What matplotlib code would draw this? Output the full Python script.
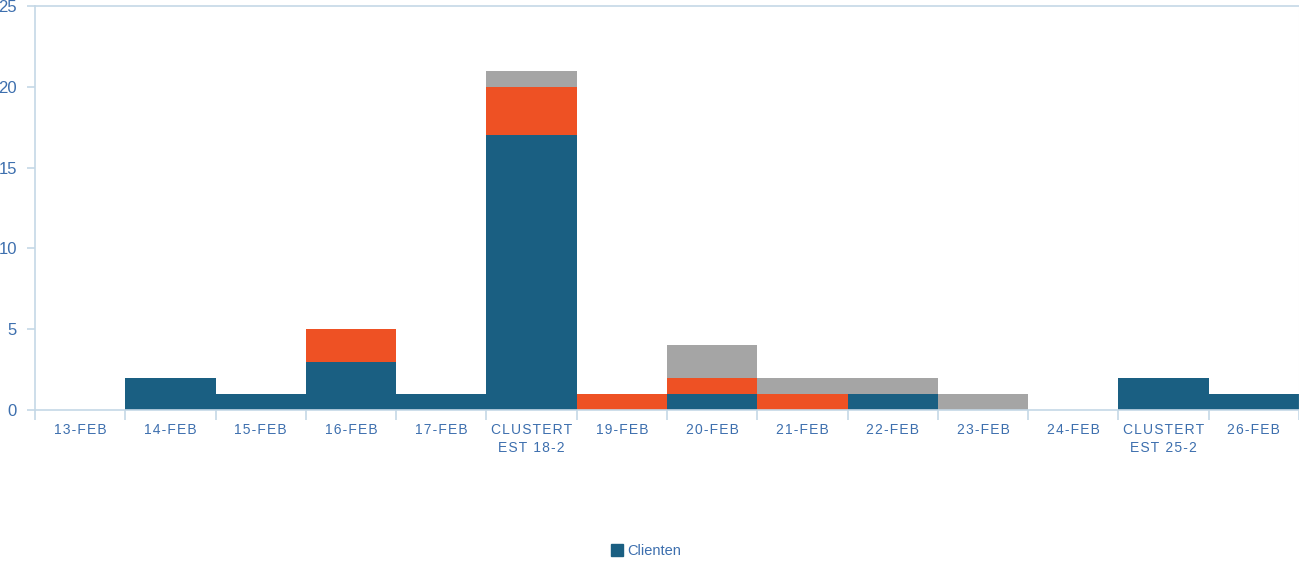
import matplotlib
matplotlib.use("Agg")
import matplotlib.pyplot as plt
import numpy as np
from matplotlib.patches import Patch

categories = ["13-FEB", "14-FEB", "15-FEB", "16-FEB", "17-FEB", "CLUSTERT\nEST 18-2",
              "19-FEB", "20-FEB", "21-FEB", "22-FEB", "23-FEB", "24-FEB",
              "CLUSTERT\nEST 25-2", "26-FEB"]
clienten = [0, 2, 1, 3, 1, 17, 0, 1, 0, 1, 0, 0, 2, 1]
oranje = [0, 0, 0, 2, 0, 3, 1, 1, 1, 0, 0, 0, 0, 0]
grijs = [0, 0, 0, 0, 0, 1, 0, 2, 1, 1, 1, 0, 0, 0]
yticks = [0, 5, 10, 15, 20, 25]

c_blue = "#1a5f82"
c_orange = "#ee5124"
c_gray = "#a5a5a5"
c_axis = "#c5d8e6"
c_text = "#3d6fae"

plt.rcParams['font.family'] = ['Liberation Sans', 'DejaVu Sans']

fig = plt.figure(figsize=(12.99, 5.61), dpi=100)
ax = fig.add_axes([35/1299, 1-410/561, 1-35/1299, 404/561])

x = np.arange(len(categories))
b = np.array(clienten)
o = np.array(oranje)
g = np.array(grijs)
ax.bar(x, b, width=1.0, color=c_blue, zorder=2)
ax.bar(x, o, width=1.0, bottom=b, color=c_orange, zorder=2)
ax.bar(x, g, width=1.0, bottom=b+o, color=c_gray, zorder=2)

ax.set_xlim(-0.5, len(categories)-0.5)
ax.set_ylim(0, 25)

def spaced(s):
    return "\n".join("\u200a".join(line) for line in s.split("\n"))

ax.set_xticks(x)
ax.set_xticklabels([spaced(c) for c in categories], fontsize=10, color=c_text,
                   linespacing=1.4)
ax.tick_params(axis='x', length=0, pad=9)
ax.set_xticks(np.arange(len(categories)+1)-0.5, minor=True)
ax.tick_params(axis='x', which='minor', length=7, color=c_axis, width=1.2)

ax.set_yticks(yticks)
ax.set_yticklabels([str(t) for t in yticks], fontsize=12, color=c_text)
ax.tick_params(axis='y', length=6, color=c_axis, width=1.2, pad=7)

for s in ['left', 'bottom', 'top']:
    ax.spines[s].set_color(c_axis)
    ax.spines[s].set_linewidth(1.2)
ax.spines['right'].set_color("#eef6f6")

fig.legend(handles=[Patch(color=c_blue, label="Clienten")], loc='center',
           bbox_to_anchor=(646/1299, 1-551/561), frameon=False, fontsize=10.5,
           labelcolor=c_text, handlelength=0.8, handleheight=0.8, handletextpad=0.3)

fig.savefig("out.png", dpi=100)
